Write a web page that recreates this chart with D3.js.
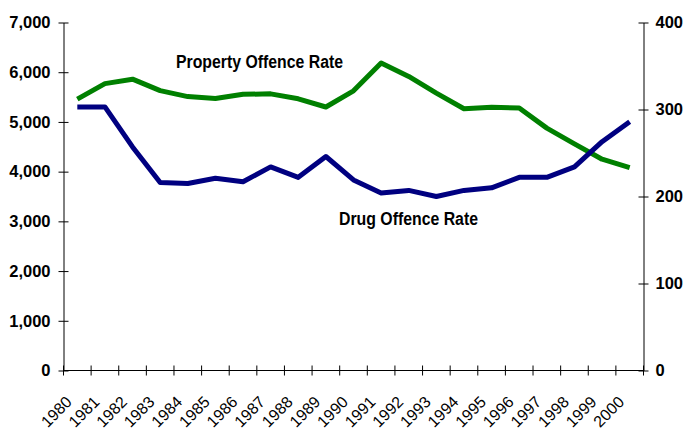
<!DOCTYPE html>
<html><head><meta charset="utf-8">
<script src="https://cdn.jsdelivr.net/npm/d3@7/dist/d3.min.js"></script>
<style>body{margin:0;background:#fff}svg{display:block}</style>
</head><body><svg id="c" width="683" height="432"></svg>
<script>
const years = ["1980","1981","1982","1983","1984","1985","1986","1987","1988","1989","1990","1991","1992","1993","1994","1995","1996","1997","1998","1999","2000"];
const propertyRate = [5460,5770,5860,5630,5510,5470,5555,5565,5465,5300,5625,6185,5915,5580,5265,5295,5280,4875,4560,4250,4080];
const drugRate = [303,303,257,216,215,221,217,234,222,246,219,204,207,200,207,210,222,222,234,263,286];
const leftTicks = [0,1000,2000,3000,4000,5000,6000,7000];
const rightTicks = [0,100,200,300,400];

const svg = d3.select("#c");
const x = d3.scaleBand().domain(years).range([63.5, 643.5]).padding(0);
const yL = d3.scaleLinear().domain([0,7000]).range([370.5, 22.5]);
const yR = d3.scaleLinear().domain([0,400]).range([370.5, 22.5]);
const font = "'Liberation Sans', Arial, sans-serif";

// left axis
const gL = svg.append("g").attr("transform","translate(63.5,0)")
  .call(d3.axisLeft(yL).tickValues(leftTicks).tickFormat(d3.format(",")).tickSize(5).tickSizeOuter(0).tickPadding(8));
gL.selectAll(".tick line").attr("x1",5);
// right axis
const gR = svg.append("g").attr("transform","translate(643.5,0)")
  .call(d3.axisRight(yR).tickValues(rightTicks).tickSize(5).tickSizeOuter(0).tickPadding(7));
gR.selectAll(".tick line").attr("x1",-5);
[gL,gR].forEach(g=>{
  g.select(".domain").attr("stroke","#000");
  g.selectAll(".tick line").attr("stroke","#000");
  g.selectAll(".tick text").attr("font-family",font).attr("font-size",16.5).attr("font-weight","bold").attr("fill","#000");
});

// x axis
svg.append("line").attr("x1",x.range()[0]).attr("x2",x.range()[1]).attr("y1",370.5).attr("y2",370.5).attr("stroke","#000");
const bounds = years.map(d=>x(d)).concat([x.range()[1]]);
svg.append("g").selectAll("line").data(bounds).join("line")
  .attr("x1",d=>d).attr("x2",d=>d).attr("y1",365.5).attr("y2",375.5).attr("stroke","#000");
svg.append("g").selectAll("text").data(years).join("text")
  .attr("transform",d=>`translate(${x(d)+x.bandwidth()/2-4.5},403) rotate(-45)`)
  .attr("text-anchor","end").attr("font-family",font).attr("font-size",16).attr("fill","#000").text(d=>d);

// lines
const cx = d=>x(d)+x.bandwidth()/2;
svg.append("path").datum(propertyRate)
  .attr("d", d3.line().x((d,i)=>cx(years[i])).y(d=>yL(d)))
  .attr("fill","none").attr("stroke","#008000").attr("stroke-width",5).attr("stroke-linejoin","round");
svg.append("path").datum(drugRate)
  .attr("d", d3.line().x((d,i)=>cx(years[i])).y(d=>yR(d)))
  .attr("fill","none").attr("stroke","#000080").attr("stroke-width",5).attr("stroke-linejoin","round");

// labels
svg.append("text").attr("x",176).attr("y",67.5).attr("font-family",font).attr("font-size",18).attr("font-weight","bold")
  .attr("textLength",167).attr("lengthAdjust","spacingAndGlyphs").text("Property Offence Rate");
svg.append("text").attr("x",339).attr("y",225).attr("font-family",font).attr("font-size",18).attr("font-weight","bold")
  .attr("textLength",139).attr("lengthAdjust","spacingAndGlyphs").text("Drug Offence Rate");
</script></body></html>
